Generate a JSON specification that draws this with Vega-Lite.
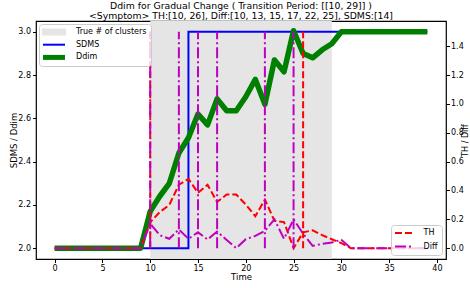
{
  "$schema": "https://vega.github.io/schema/vega-lite/v6.json",
  "width": 410,
  "height": 238,
  "autosize": {"type": "none"},
  "padding": {"left": 36, "top": 21, "right": 24, "bottom": 29},
  "background": "white",
  "title": {
    "text": ["Ddim for Gradual Change ( Transition Period: [[10, 29]] )", "<Symptom> TH:[10, 26], Diff:[10, 13, 15, 17, 22, 25], SDMS:[14]"],
    "fontSize": 9.3, "font": "DejaVu Sans", "fontWeight": "normal", "color": "black", "lineHeight": 10, "offset": 0, "anchor": "middle"
  },
  "config": {
    "view": {"stroke": "black", "strokeWidth": 1.2},
    "axis": {"grid": false, "domain": false, "tickSize": 3.5, "tickColor": "black", "tickWidth": 1, "labelFont": "DejaVu Sans", "labelFontSize": 8, "labelColor": "black", "labelOverlap": false, "titleFont": "DejaVu Sans", "titleFontSize": 8.5, "titleFontWeight": "normal", "titleColor": "black", "labelPadding": 2},
    "legend": {"labelFont": "DejaVu Sans", "labelFontSize": 8, "labelColor": "black", "fillColor": "rgba(255,255,255,0.8)", "strokeColor": "#cccccc", "cornerRadius": 3, "padding": 4, "rowPadding": 4.7}
  },
  "datasets": {
    "series": [
      {"t": 0, "SDMS": 2.0, "Ddim": 2.0, "TH": 0, "Diff": 0},
      {"t": 1, "SDMS": 2.0, "Ddim": 2.0, "TH": 0, "Diff": 0},
      {"t": 2, "SDMS": 2.0, "Ddim": 2.0, "TH": 0, "Diff": 0},
      {"t": 3, "SDMS": 2.0, "Ddim": 2.0, "TH": 0, "Diff": 0},
      {"t": 4, "SDMS": 2.0, "Ddim": 2.0, "TH": 0, "Diff": 0},
      {"t": 5, "SDMS": 2.0, "Ddim": 2.0, "TH": 0, "Diff": 0},
      {"t": 6, "SDMS": 2.0, "Ddim": 2.0, "TH": 0, "Diff": 0},
      {"t": 7, "SDMS": 2.0, "Ddim": 2.0, "TH": 0, "Diff": 0},
      {"t": 8, "SDMS": 2.0, "Ddim": 2.0, "TH": 0, "Diff": 0},
      {"t": 9, "SDMS": 2.0, "Ddim": 2.0, "TH": 0, "Diff": 0},
      {"t": 10, "SDMS": 2.0, "Ddim": 2.17, "TH": 0.18, "Diff": 0.17},
      {"t": 11, "SDMS": 2.0, "Ddim": 2.24, "TH": 0.25, "Diff": 0.09},
      {"t": 12, "SDMS": 2.0, "Ddim": 2.3, "TH": 0.3, "Diff": 0.065},
      {"t": 13, "SDMS": 2.0, "Ddim": 2.44, "TH": 0.44, "Diff": 0.13},
      {"t": 14, "SDMS": 3.0, "Ddim": 2.51, "TH": 0.48, "Diff": 0.065},
      {"t": 15, "SDMS": 3.0, "Ddim": 2.62, "TH": 0.384, "Diff": 0.11},
      {"t": 16, "SDMS": 3.0, "Ddim": 2.57, "TH": 0.44, "Diff": 0.06},
      {"t": 17, "SDMS": 3.0, "Ddim": 2.69, "TH": 0.32, "Diff": 0.115},
      {"t": 18, "SDMS": 3.0, "Ddim": 2.635, "TH": 0.372, "Diff": 0.057},
      {"t": 19, "SDMS": 3.0, "Ddim": 2.635, "TH": 0.372, "Diff": 0.0},
      {"t": 20, "SDMS": 3.0, "Ddim": 2.7, "TH": 0.303, "Diff": 0.062},
      {"t": 21, "SDMS": 3.0, "Ddim": 2.78, "TH": 0.222, "Diff": 0.085},
      {"t": 22, "SDMS": 3.0, "Ddim": 2.665, "TH": 0.337, "Diff": 0.12},
      {"t": 23, "SDMS": 3.0, "Ddim": 2.87, "TH": 0.19, "Diff": 0.2},
      {"t": 24, "SDMS": 3.0, "Ddim": 2.815, "TH": 0.181, "Diff": 0.065},
      {"t": 25, "SDMS": 3.0, "Ddim": 3.005, "TH": 0.0, "Diff": 0.2},
      {"t": 26, "SDMS": 3.0, "Ddim": 2.9, "TH": 0.11, "Diff": 0.1},
      {"t": 27, "SDMS": 3.0, "Ddim": 2.88, "TH": 0.124, "Diff": 0.016},
      {"t": 28, "SDMS": 3.0, "Ddim": 2.917, "TH": 0.09, "Diff": 0.03},
      {"t": 29, "SDMS": 3.0, "Ddim": 2.945, "TH": 0.062, "Diff": 0.04},
      {"t": 30, "SDMS": 3.0, "Ddim": 3.0, "TH": 0.035, "Diff": 0.058},
      {"t": 31, "SDMS": 3.0, "Ddim": 3.0, "TH": 0, "Diff": 0},
      {"t": 32, "SDMS": 3.0, "Ddim": 3.0, "TH": 0, "Diff": 0},
      {"t": 33, "SDMS": 3.0, "Ddim": 3.0, "TH": 0, "Diff": 0},
      {"t": 34, "SDMS": 3.0, "Ddim": 3.0, "TH": 0, "Diff": 0},
      {"t": 35, "SDMS": 3.0, "Ddim": 3.0, "TH": 0, "Diff": 0},
      {"t": 36, "SDMS": 3.0, "Ddim": 3.0, "TH": 0, "Diff": 0},
      {"t": 37, "SDMS": 3.0, "Ddim": 3.0, "TH": 0, "Diff": 0},
      {"t": 38, "SDMS": 3.0, "Ddim": 3.0, "TH": 0, "Diff": 0},
      {"t": 39, "SDMS": 3.0, "Ddim": 3.0, "TH": 0, "Diff": 0}
    ],
    "span": [{"start": 10, "end": 29, "series": "True # of clusters"}],
    "vlines": [
      {"x": 10, "series": "TH", "lo": 0, "hi": 1.5},
      {"x": 26, "series": "TH", "lo": 0, "hi": 1.5},
      {"x": 10, "series": "Diff", "lo": 0, "hi": 1.5},
      {"x": 13, "series": "Diff", "lo": 0, "hi": 1.5},
      {"x": 15, "series": "Diff", "lo": 0, "hi": 1.5},
      {"x": 17, "series": "Diff", "lo": 0, "hi": 1.5},
      {"x": 22, "series": "Diff", "lo": 0, "hi": 1.5},
      {"x": 25, "series": "Diff", "lo": 0, "hi": 1.5}
    ]
  },
  "layer": [
    {
      "layer": [
        {
          "data": {"name": "span"},
          "mark": {"type": "rect"},
          "encoding": {
            "x": {"field": "start", "type": "quantitative", "title": "Time", "scale": {"domain": [-1.95, 40.95], "nice": false, "zero": false}, "axis": {"values": [0, 5, 10, 15, 20, 25, 30, 35, 40], "title": "Time", "titlePadding": 0, "labelOverlap": false}},
            "x2": {"field": "end"},
            "color": {"field": "series", "type": "nominal", "scale": {"domain": ["True # of clusters", "SDMS", "Ddim"], "range": ["#e5e5e5", "#0000ff", "#008000"]},
              "legend": {"orient": "top-left", "offset": 3, "title": null, "symbolSize": 16, "symbolStrokeWidth": 0, "symbolOffset": 7, "labelOffset": 18,
                "encode": {"symbols": {"update": {
                  "shape": {"signal": "(datum.value === 'True # of clusters' ? 'M-6,-1.75H6V1.75H-6Z' : datum.value === 'SDMS' ? 'M-5.5,-0.5H5.5V0.5H-5.5Z' : 'M-5.5,-1.25H5.5V1.25H-5.5Z')"},
                  "fill": {"signal": "(datum.value === 'True # of clusters' ? '#e5e5e5' : datum.value === 'SDMS' ? '#0000ff' : '#008000')"},
                  "stroke": {"value": "transparent"},
                  "opacity": {"value": 1}
                }}}}}
          }
        },
        {
          "data": {"name": "series"},
          "transform": [{"fold": ["SDMS"], "as": ["series", "v"]}],
          "mark": {"type": "line", "interpolate": "step-after", "strokeWidth": 2},
          "encoding": {
            "x": {"field": "t", "type": "quantitative", "title": "Time"},
            "y": {"field": "v", "type": "quantitative", "title": "SDMS / Ddim", "scale": {"domain": [1.95, 3.05], "nice": false, "zero": false}, "axis": {"orient": "left", "values": [2.0, 2.2, 2.4, 2.6, 2.8, 3.0], "format": ".1f", "title": "SDMS / Ddim", "titlePadding": -1, "labelOverlap": false}},
            "color": {"field": "series", "type": "nominal", "scale": {"domain": ["True # of clusters", "SDMS", "Ddim"], "range": ["#e5e5e5", "#0000ff", "#008000"]}}
          }
        },
        {
          "data": {"name": "series"},
          "transform": [{"fold": ["Ddim"], "as": ["series", "v"]}],
          "mark": {"type": "line", "strokeWidth": 5.5, "strokeJoin": "round", "strokeCap": "butt"},
          "encoding": {
            "x": {"field": "t", "type": "quantitative", "title": "Time"},
            "y": {"field": "v", "type": "quantitative", "title": "SDMS / Ddim"},
            "color": {"field": "series", "type": "nominal", "scale": {"domain": ["True # of clusters", "SDMS", "Ddim"], "range": ["#e5e5e5", "#0000ff", "#008000"]}}
          }
        }
      ]
    },
    {
      "layer": [
        {
          "data": {"name": "series"},
          "transform": [{"fold": ["TH", "Diff"], "as": ["series", "v"]}],
          "mark": {"type": "line", "strokeWidth": 2},
          "encoding": {
            "x": {"field": "t", "type": "quantitative", "title": "Time"},
            "y": {"field": "v", "type": "quantitative", "title": "TH / Diff", "scale": {"domain": [-0.075, 1.575], "nice": false, "zero": false}, "axis": {"orient": "right", "values": [0, 0.2, 0.4, 0.6, 0.8, 1.0, 1.2, 1.4], "format": ".1f", "title": "TH / Diff", "titleAngle": 270, "titleBaseline": "top", "titleFontSize": 8, "titlePadding": -2, "labelPadding": 1, "labelOverlap": false, "tickCount": 8}},
            "color": {"field": "series", "type": "nominal", "scale": {"domain": ["TH", "Diff"], "range": ["#ff0000", "#bf00bf"]}, "legend": {"orient": "bottom-right", "offset": 4, "title": null, "symbolType": "M-4.25,0H4.25", "symbolSize": 16, "symbolStrokeWidth": 2, "symbolOffset": 4.5, "labelOffset": 16, "rowPadding": 5.5}},
            "strokeDash": {"field": "series", "type": "nominal", "scale": {"domain": ["TH", "Diff"], "range": [[7, 3], [11, 3, 2, 3]]}, "legend": {"orient": "bottom-right", "offset": 4, "title": null, "symbolType": "M-4.25,0H4.25", "symbolSize": 16, "symbolStrokeWidth": 2, "symbolOffset": 4.5, "labelOffset": 16, "rowPadding": 5.5}}
          }
        },
        {
          "data": {"name": "vlines"},
          "mark": {"type": "rule", "strokeWidth": 2},
          "encoding": {
            "x": {"field": "x", "type": "quantitative", "title": "Time"},
            "y": {"field": "lo", "type": "quantitative", "title": "TH / Diff", "axis": {"orient": "right", "values": [0, 0.2, 0.4, 0.6, 0.8, 1.0, 1.2, 1.4], "format": ".1f", "title": "TH / Diff", "titleAngle": 270, "titleBaseline": "top", "titleFontSize": 8, "titlePadding": -2, "labelPadding": 1, "labelOverlap": false, "tickCount": 8}},
            "y2": {"field": "hi"},
            "color": {"field": "series", "type": "nominal", "scale": {"domain": ["TH", "Diff"], "range": ["#ff0000", "#bf00bf"]}},
            "strokeDash": {"field": "series", "type": "nominal", "scale": {"domain": ["TH", "Diff"], "range": [[7, 3], [11, 3, 2, 3]]}}
          }
        }
      ]
    }
  ],
  "resolve": {"scale": {"y": "independent", "color": "independent", "strokeDash": "independent"}}
}
